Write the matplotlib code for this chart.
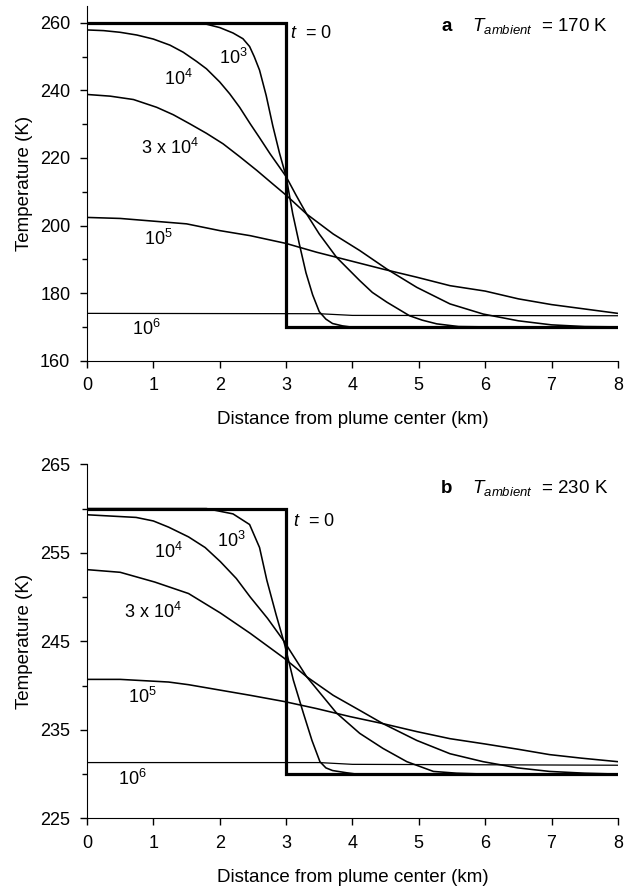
import matplotlib.pyplot as plt
from matplotlib.ticker import MultipleLocator

plt.rcParams['font.family'] = ['Liberation Sans', 'DejaVu Sans']
plt.rcParams['mathtext.fontset'] = 'custom'
plt.rcParams['mathtext.rm'] = 'Liberation Sans'
plt.rcParams['mathtext.it'] = 'Liberation Sans:italic'
plt.rcParams['mathtext.bf'] = 'Liberation Sans:bold'

# ---------------------------------------------------------------------------
# data (x in km, T in K)

# panel a : T_ambient = 170 K
a_t0_x = [0, 3, 3, 8]
a_t0_T = [260, 260, 170, 170]

a_1e3_x = [0, 1.6, 1.8, 2.0, 2.2, 2.35, 2.45, 2.52, 2.6, 2.7, 2.8, 2.9, 3.0, 3.1, 3.2, 3.3, 3.4, 3.5, 3.6, 3.7, 3.85, 4.0, 4.2, 4.4, 8]
a_1e3_T = [260, 260, 259.6, 258.6, 257.0, 255.3, 253.0, 250.0, 246.0, 238.5, 229.5, 221.5, 214.5, 203.5, 194.5, 186.0, 179.5, 174.5, 172.3, 171.0, 170.3, 169.9, 169.6, 170, 170]

a_1e4_x = [0, 0.25, 0.5, 0.75, 1.0, 1.25, 1.45, 1.65, 1.8, 2.0, 2.15, 2.3, 2.46, 2.6, 2.76, 2.9, 3.0, 3.15, 3.31, 3.5, 3.76, 4.11, 4.3, 4.52, 4.86, 5.05, 5.27, 5.6, 6.0, 8]
a_1e4_T = [257.9, 257.7, 257.2, 256.4, 255.2, 253.4, 251.3, 248.6, 246.4, 242.5, 239.0, 235.0, 230.1, 226.0, 221.2, 217.3, 214.5, 209.0, 203.4, 197.5, 190.6, 183.7, 180.2, 177.3, 173.3, 172.0, 170.9, 170.1, 170, 170]

a_3e4_x = [0, 0.35, 0.7, 1.05, 1.3, 1.55, 1.8, 2.05, 2.3, 2.56, 2.8, 3.0, 3.31, 3.71, 4.11, 4.52, 4.97, 5.47, 5.97, 6.5, 7.0, 7.5, 8]
a_3e4_T = [238.8, 238.3, 237.3, 235.0, 232.8, 230.1, 227.3, 224.2, 220.4, 216.3, 212.3, 209.0, 203.4, 197.5, 192.6, 187.1, 181.7, 176.8, 173.8, 171.8, 170.6, 170.1, 170]

a_1e5_x = [0, 0.5, 1.0, 1.5, 2.0, 2.46, 3.0, 3.46, 3.96, 4.46, 4.97, 5.47, 6.0, 6.5, 7.0, 7.5, 8]
a_1e5_T = [202.4, 202.1, 201.3, 200.5, 198.5, 197.0, 194.7, 192.1, 189.6, 187.1, 184.7, 182.2, 180.6, 178.3, 176.6, 175.3, 174.0]

a_1e6_x = [0, 3.5, 4.0, 8]
a_1e6_T = [174.0, 173.9, 173.4, 173.3]

# panel b : T_ambient = 230 K
b_t0_x = [0, 3, 3, 8]
b_t0_T = [260, 260, 230, 230]

b_1e3_x = [0, 1.8, 2.2, 2.45, 2.6, 2.71, 2.85, 2.98, 3.11, 3.26, 3.39, 3.51, 3.6, 3.7, 3.91, 4.16, 4.4, 8]
b_1e3_T = [260, 260, 259.4, 258.2, 255.6, 251.9, 248.0, 244.6, 240.6, 236.9, 233.8, 231.4, 230.7, 230.4, 230.15, 229.9, 230, 230]

b_1e4_x = [0, 0.74, 1.0, 1.23, 1.53, 1.78, 2.01, 2.25, 2.46, 2.72, 2.97, 3.31, 3.76, 4.11, 4.46, 4.82, 5.22, 5.57, 6.0, 8]
b_1e4_T = [259.3, 259.0, 258.6, 257.9, 256.8, 255.6, 254.0, 252.1, 250.0, 247.6, 245.0, 241.0, 236.9, 234.6, 232.9, 231.4, 230.3, 230.1, 230, 230]

b_3e4_x = [0, 0.5, 1.02, 1.53, 2.01, 2.46, 2.97, 3.31, 3.71, 4.11, 4.46, 4.97, 5.47, 5.97, 6.49, 6.97, 7.5, 8]
b_3e4_T = [253.1, 252.8, 251.7, 250.4, 248.2, 245.9, 243.1, 241.0, 238.9, 237.2, 235.7, 233.8, 232.3, 231.4, 230.7, 230.3, 230.1, 230]

b_1e5_x = [0, 0.5, 1.23, 1.53, 2.46, 2.97, 3.46, 3.96, 4.46, 4.97, 5.47, 6.0, 6.5, 6.97, 7.45, 8]
b_1e5_T = [240.7, 240.7, 240.4, 240.1, 238.9, 238.2, 237.4, 236.5, 235.7, 234.8, 234.0, 233.4, 232.8, 232.2, 231.8, 231.4]

b_1e6_x = [0, 3.5, 4.0, 8]
b_1e6_T = [231.3, 231.3, 231.1, 231.0]

curve_names = ['10$^3$', '10$^4$', '3 x 10$^4$', '10$^5$', '10$^6$']

# label positions (x, T) for each curve name
a_label_pos = [(2.2, 249.7), (1.37, 243.5), (1.25, 223.1), (1.08, 196.0), (0.9, 169.5)]
b_label_pos = [(2.17, 256.3), (1.23, 255.1), (0.99, 248.3), (0.84, 238.7), (0.69, 229.5)]

# ---------------------------------------------------------------------------

fig = plt.figure(figsize=(6.26, 8.89), dpi=100)
ax_a = fig.add_axes([0.139, 0.5943, 0.848, 0.399])
ax_b = fig.add_axes([0.139, 0.0795, 0.848, 0.3982])


def draw_panel(ax, t0, curves, label_pos, t0_pos, title, title_y, ylim, yticks, minor):
    # step profile at t = 0 is the thick one
    ax.plot(t0[0], t0[1], color='black', lw=2.3, solid_joinstyle='miter', zorder=3)
    for i, (cx, cy) in enumerate(curves):
        lw = 0.9 if i == len(curves) - 1 else 1.15
        ax.plot(cx, cy, color='black', lw=lw)

    for name, (lx, ly) in zip(curve_names, label_pos):
        ax.text(lx, ly, name, fontsize=13, ha='center', va='center')
    ax.text(t0_pos[0], t0_pos[1], '$t$  = 0', fontsize=13, ha='left', va='center')
    ax.text(7.85, title_y, title, fontsize=13.5, ha='right', va='center')

    ax.set_xlim(0, 8)
    ax.set_ylim(*ylim)
    ax.xaxis.set_major_locator(MultipleLocator(1))
    ax.set_yticks(yticks)
    ax.yaxis.set_minor_locator(MultipleLocator(minor))
    ax.spines['top'].set_visible(False)
    ax.spines['right'].set_visible(False)
    ax.tick_params(axis='both', which='major', direction='out', length=5, width=1, labelsize=13, pad=7)
    ax.tick_params(axis='y', which='minor', direction='out', length=3.5, width=1)
    ax.set_xlabel('Distance from plume center (km)', fontsize=13.5, labelpad=12)
    ax.set_ylabel('Temperature (K)', fontsize=13.5, labelpad=5)


draw_panel(ax_a, (a_t0_x, a_t0_T),
           [(a_1e3_x, a_1e3_T), (a_1e4_x, a_1e4_T), (a_3e4_x, a_3e4_T), (a_1e5_x, a_1e5_T), (a_1e6_x, a_1e6_T)],
           a_label_pos, (3.06, 256.8),
           r'$\mathbf{a}$    $T_{ambient}$  = 170 K', 259.2, (160, 265), [160, 180, 200, 220, 240, 260], 10)

draw_panel(ax_b, (b_t0_x, b_t0_T),
           [(b_1e3_x, b_1e3_T), (b_1e4_x, b_1e4_T), (b_3e4_x, b_3e4_T), (b_1e5_x, b_1e5_T), (b_1e6_x, b_1e6_T)],
           b_label_pos, (3.1, 258.5),
           r'$\mathbf{b}$    $T_{ambient}$  = 230 K', 262.3, (225, 265), [225, 235, 245, 255, 265], 5)

plt.savefig('out.png', dpi=100)
